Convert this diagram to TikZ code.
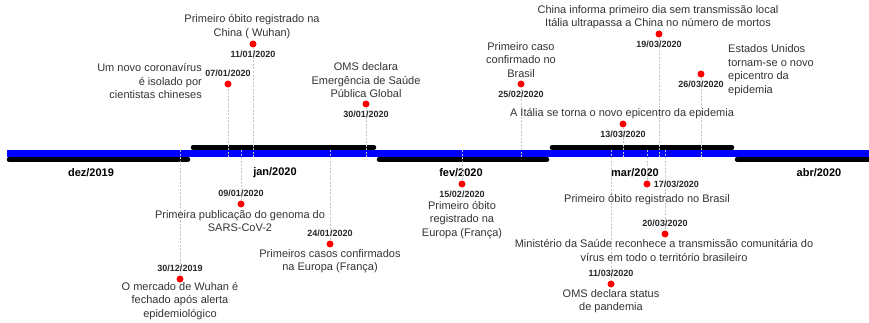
\documentclass[tikz,border=0pt]{standalone}
\usepackage{fontspec}
\setmainfont{Liberation Sans}
\usepackage{xcolor}
\usepackage{tikz}
\usetikzlibrary{positioning}
\tikzset{dot/.style={circle,fill=red,inner sep=0pt,minimum size=7pt},
  dat/.style={font=\fontsize{9}{10}\selectfont\bfseries,inner sep=0pt,text=black!85},
  txt/.style={font=\fontsize{11}{13.5}\selectfont,align=center,inner sep=0pt,text=black!80},
  mes/.style={font=\fontsize{11}{12}\selectfont\bfseries,inner sep=0pt},
  guia/.style={draw=black!22,dash pattern=on 2pt off 1.5pt,line width=0.5pt},
  seg/.style={line width=4.5pt,line cap=round}}

\begin{document}
\begin{tikzpicture}[x=1pt,y=1pt]
    \useasboundingbox (0,0) rectangle (869,322);

    % meses
    \draw[seg] (9,162.5) -- (188,162.5);
    \draw[seg] (193,174.5) -- (374,174.5);
    \draw[seg] (379,162.5) -- (547,162.5);
    \draw[seg] (552,174.5) -- (732,174.5);
    \draw[seg] (737,162.5) -- (872,162.5);
    \fill[blue] (7,165) rectangle (869,172);

    \node[mes] (dez) at (91,149) {dez/2019};
    \node[mes] (jan) at (275,149) {jan/2020};
    \node[mes] (fev) at (461,149) {fev/2020};
    \node[mes] (mar) at (635,149) {mar/2020};
    \node[mes] (abr) at (819,149) {abr/2020};

    % pontos na barra
    \coordinate (b1) at (180,172);
    \coordinate (b2) at (228,165);
    \coordinate (b3) at (253,165);
    \coordinate (b4) at (241,172);
    \coordinate (b5) at (330,172);
    \coordinate (b6) at (366,165);
    \coordinate (b7) at (462,172);
    \coordinate (b8) at (521,165);
    \coordinate (b9) at (623,165);
    \coordinate (b10) at (659,165);
    \coordinate (b11) at (701,165);
    \coordinate (b12) at (647,172);
    \coordinate (b13) at (665,172);
    \coordinate (b14) at (611,172);

    % eventos
    \node[dot] (d1) at (180,43) {};
    \node[dot] (d2) at (228,238) {};
    \node[dot] (d3) at (253,278) {};
    \node[dot] (d4) at (241,118) {};
    \node[dot] (d5) at (330,78) {};
    \node[dot] (d6) at (366,218) {};
    \node[dot] (d7) at (462,138) {};
    \node[dot] (d8) at (521,238) {};
    \node[dot] (d9) at (623,198) {};
    \node[dot] (d10) at (659,288) {};
    \node[dot] (d11) at (701,248) {};
    \node[dot] (d12) at (647,138) {};
    \node[dot] (d13) at (665,88) {};
    \node[dot] (d14) at (611,38) {};

    \draw[guia] (b1) -- (d1);
    \draw[guia] (b2) -- (d2);
    \draw[guia] (b3) -- (d3);
    \draw[guia] (b4) -- (d4);
    \draw[guia] (b5) -- (d5);
    \draw[guia] (b6) -- (d6);
    \draw[guia] (b7) -- (d7);
    \draw[guia] (b8) -- (d8);
    \draw[guia] (b9) -- (d9);
    \draw[guia] (b10) -- (d10);
    \draw[guia] (b11) -- (d11);
    \draw[guia] (b12) -- (d12);
    \draw[guia] (b13) -- (d13);
    \draw[guia] (b14) -- (d14);

    \node[dat,above=3pt of d1] (t1) {30/12/2019};
    \node[dat,above=3pt of d2] (t2) {07/01/2020};
    \node[dat,below=3pt of d3] (t3) {11/01/2020};
    \node[dat,above=3pt of d4] (t4) {09/01/2020};
    \node[dat,above=3pt of d5] (t5) {24/01/2020};
    \node[dat,below=3pt of d6] (t6) {30/01/2020};
    \node[dat,below=3pt of d7] (t7) {15/02/2020};
    \node[dat,below=3pt of d8] (t8) {25/02/2020};
    \node[dat,below=3pt of d9] (t9) {13/03/2020};
    \node[dat,below=3pt of d10] (t10) {19/03/2020};
    \node[dat,below=3pt of d11] (t11) {26/03/2020};
    \node[dat,right=3pt of d12] (t12) {17/03/2020};
    \node[dat,above=3pt of d13] (t13) {20/03/2020};
    \node[dat,above=3pt of d14] (t14) {11/03/2020};

    \node[txt] (e1) at (180,21) {O mercado de Wuhan é\\fechado após alerta\\epidemiológico};
    \node[txt,align=right,anchor=east] (e2) at (202,240.5) {Um novo coronavírus\\é isolado por\\cientistas chineses};
    \node[txt] (e3) at (252,295.5) {Primeiro óbito registrado na\\China ( Wuhan)};
    \node[txt] (e4) at (240,101) {Primeira publicação do genoma do\\SARS-CoV-2};
    \node[txt] (e5) at (330,61) {Primeiros casos confirmados\\na Europa (França)};
    \node[txt] (e6) at (366,241.5) {OMS declara\\Emergência de Saúde\\Pública Global};
    \node[txt] (e7) at (462,102) {Primeiro óbito\\registrado na\\Europa (França)};
    \node[txt] (e8) at (521,262) {Primeiro caso\\confirmado no\\Brasil};
    \node[txt] (e9) at (622,208) {A Itália se torna o novo epicentro da epidemia};
    \node[txt] (e10) at (658,305) {China informa primeiro dia sem transmissão local\\Itália ultrapassa a China no número de mortos};
    \node[txt,align=left,anchor=west] (e11) at (728,252) {Estados Unidos\\tornam-se o novo\\epicentro da\\epidemia};
    \node[txt] (e12) at (647,122) {Primeiro óbito registrado no Brasil};
    \node[txt] (e13) at (664,71.5) {Ministério da Saúde reconhece a transmissão comunitária do\\vírus em todo o território brasileiro};
    \node[txt] (e14) at (611,21) {OMS declara status\\de pandemia};
\end{tikzpicture}
\end{document}
